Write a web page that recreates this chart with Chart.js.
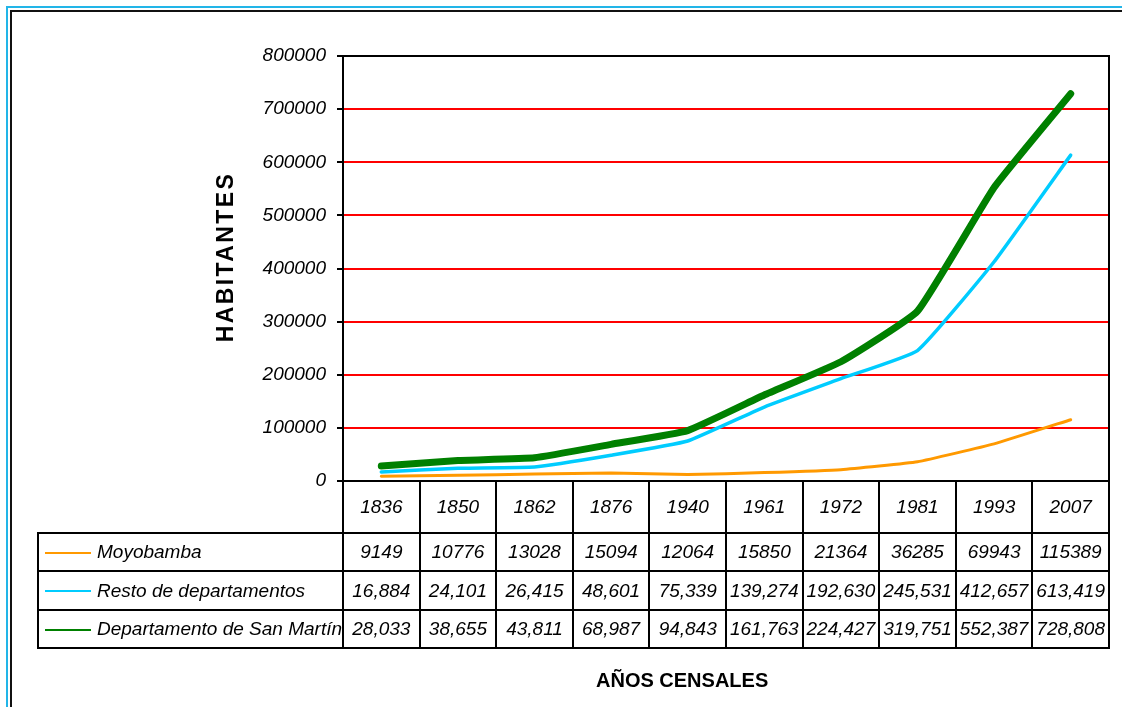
<!DOCTYPE html>
<html>
<head>
<meta charset="utf-8">
<script src="https://cdn.jsdelivr.net/npm/chart.js@4"></script>
<style>
  body { margin: 0; background: #fff; font-family: "Liberation Sans", Arial, sans-serif; }
  #wrap { position: relative; width: 1122px; height: 707px; overflow: hidden; }
  #frameBlue { position: absolute; left: 6px; top: 6px; width: 1300px; height: 900px; border: 2px solid #22b5e8; }
  #frameBlack { position: absolute; left: 10px; top: 10px; width: 1300px; height: 900px; border: 2px solid #111; }
  #chart { position: absolute; left: 0; top: 0; }
  #yTitle { position: absolute; width: 240px; height: 30px; line-height: 30px; text-align: center;
            font-weight: bold; font-size: 23px; letter-spacing: 2.4px; transform: rotate(-90deg); }
  #xTitle { position: absolute; font-weight: bold; font-size: 20px; }
  #dataTable { position: absolute; border-collapse: collapse; table-layout: fixed; font-style: italic; font-size: 19px; }
  #dataTable td { border: 2px solid #000; text-align: center; padding: 0; white-space: nowrap; overflow: visible; }
  #dataTable td.lbl { text-align: left; }
  #dataTable td.blank { border-top: none; border-left: none; }
  .key { display: inline-block; width: 46px; height: 2px; vertical-align: middle; margin: 0 6px 0 6px; }
</style>
</head>
<body>
<div id="wrap">
  <div id="frameBlue"></div>
  <div id="frameBlack"></div>
  <canvas id="chart" width="1122" height="707"></canvas>
  <div id="yTitle">HABITANTES</div>
  <div id="xTitle">AÑOS CENSALES</div>
  <table id="dataTable"></table>
</div>
<script>
const years = ["1836", "1850", "1862", "1876", "1940", "1961", "1972", "1981", "1993", "2007"];
const moyobamba = [9149, 10776, 13028, 15094, 12064, 15850, 21364, 36285, 69943, 115389];
const restoDepartamentos = [16884, 24101, 26415, 48601, 75339, 139274, 192630, 245531, 412657, 613419];
const sanMartin = [28033, 38655, 43811, 68987, 94843, 161763, 224427, 319751, 552387, 728808];
const yTicks = [0, 100000, 200000, 300000, 400000, 500000, 600000, 700000, 800000];

const series = [
  { name: "Moyobamba", data: moyobamba, color: "#ff9900", width: 3, grouped: false },
  { name: "Resto de departamentos", data: restoDepartamentos, color: "#00ccff", width: 3.5, grouped: true },
  { name: "Departamento de San Martín", data: sanMartin, color: "#008000", width: 7, grouped: true }
];

const FONT = '"Liberation Sans", Arial, sans-serif';

// black frame on top and right of the plot
const plotFrame = {
  id: "plotFrame",
  afterDraw(chart) {
    const { ctx, chartArea: a } = chart;
    ctx.save();
    ctx.strokeStyle = "#000";
    ctx.lineWidth = 2;
    ctx.beginPath();
    ctx.moveTo(a.left, a.top);
    ctx.lineTo(a.right, a.top);
    ctx.lineTo(a.right, a.bottom);
    ctx.stroke();
    ctx.restore();
  }
};

const chart = new Chart(document.getElementById("chart"), {
  type: "line",
  data: {
    labels: years,
    datasets: series.map((s, i) => ({
      label: s.name,
      data: s.data,
      borderColor: s.color,
      backgroundColor: s.color,
      borderWidth: s.width,
      pointRadius: 0,
      tension: 0.12,
      borderCapStyle: "round",
      borderJoinStyle: "round",
      order: 3 - i
    }))
  },
  options: {
    responsive: false,
    animation: false,
    layout: { padding: { top: 56, right: 13, bottom: 226, left: 0 } },
    plugins: { legend: { display: false }, tooltip: { enabled: false } },
    scales: {
      x: { display: false, offset: true },
      y: {
        min: 0,
        max: 800000,
        afterFit: (scale) => { scale.width = 343; },
        afterBuildTicks: (scale) => { scale.ticks = yTicks.map(v => ({ value: v })); },
        ticks: {
          color: "#000",
          padding: 11,
          font: { family: FONT, size: 19, style: "italic" },
          callback: (v) => String(v)
        },
        grid: {
          color: (c) => (c.tick && (c.tick.value === 0 || c.tick.value === 800000)) ? "#000" : "#ff0000",
          lineWidth: 2,
          tickColor: "#000",
          tickLength: 6
        },
        border: { display: true, color: "#000", width: 2 }
      }
    }
  },
  plugins: [plotFrame]
});

// data table below the plot, columns aligned to the category scale
function buildTable() {
  const area = chart.chartArea;
  const colW = (area.right - area.left) / years.length;
  const labelLeft = 38;
  const table = document.getElementById("dataTable");
  table.style.left = (labelLeft - 1) + "px";
  table.style.top = (area.bottom - 1) + "px";

  let html = "<colgroup><col style='width:" + (area.left - labelLeft) + "px'>";
  years.forEach(() => { html += "<col style='width:" + colW + "px'>"; });
  html += "</colgroup>";

  html += "<tr style='height:52px'><td class='blank'></td>";
  years.forEach(y => { html += "<td>" + y + "</td>"; });
  html += "</tr>";

  const rowH = [38, 39, 38];
  series.forEach((s, i) => {
    html += "<tr style='height:" + rowH[i] + "px'><td class='lbl'><span class='key' style='background:" + s.color + "'></span>" + s.name + "</td>";
    s.data.forEach(v => {
      const txt = s.grouped ? v.toLocaleString("en-US") : String(v);
      html += "<td>" + txt + "</td>";
    });
    html += "</tr>";
  });
  table.innerHTML = html;

  const yt = document.getElementById("yTitle");
  yt.style.left = (225 - 120) + "px";
  yt.style.top = (257 - 15) + "px";
  const xt = document.getElementById("xTitle");
  xt.style.left = "596px";
  xt.style.top = "669px";
}
buildTable();
</script>
</body>
</html>
